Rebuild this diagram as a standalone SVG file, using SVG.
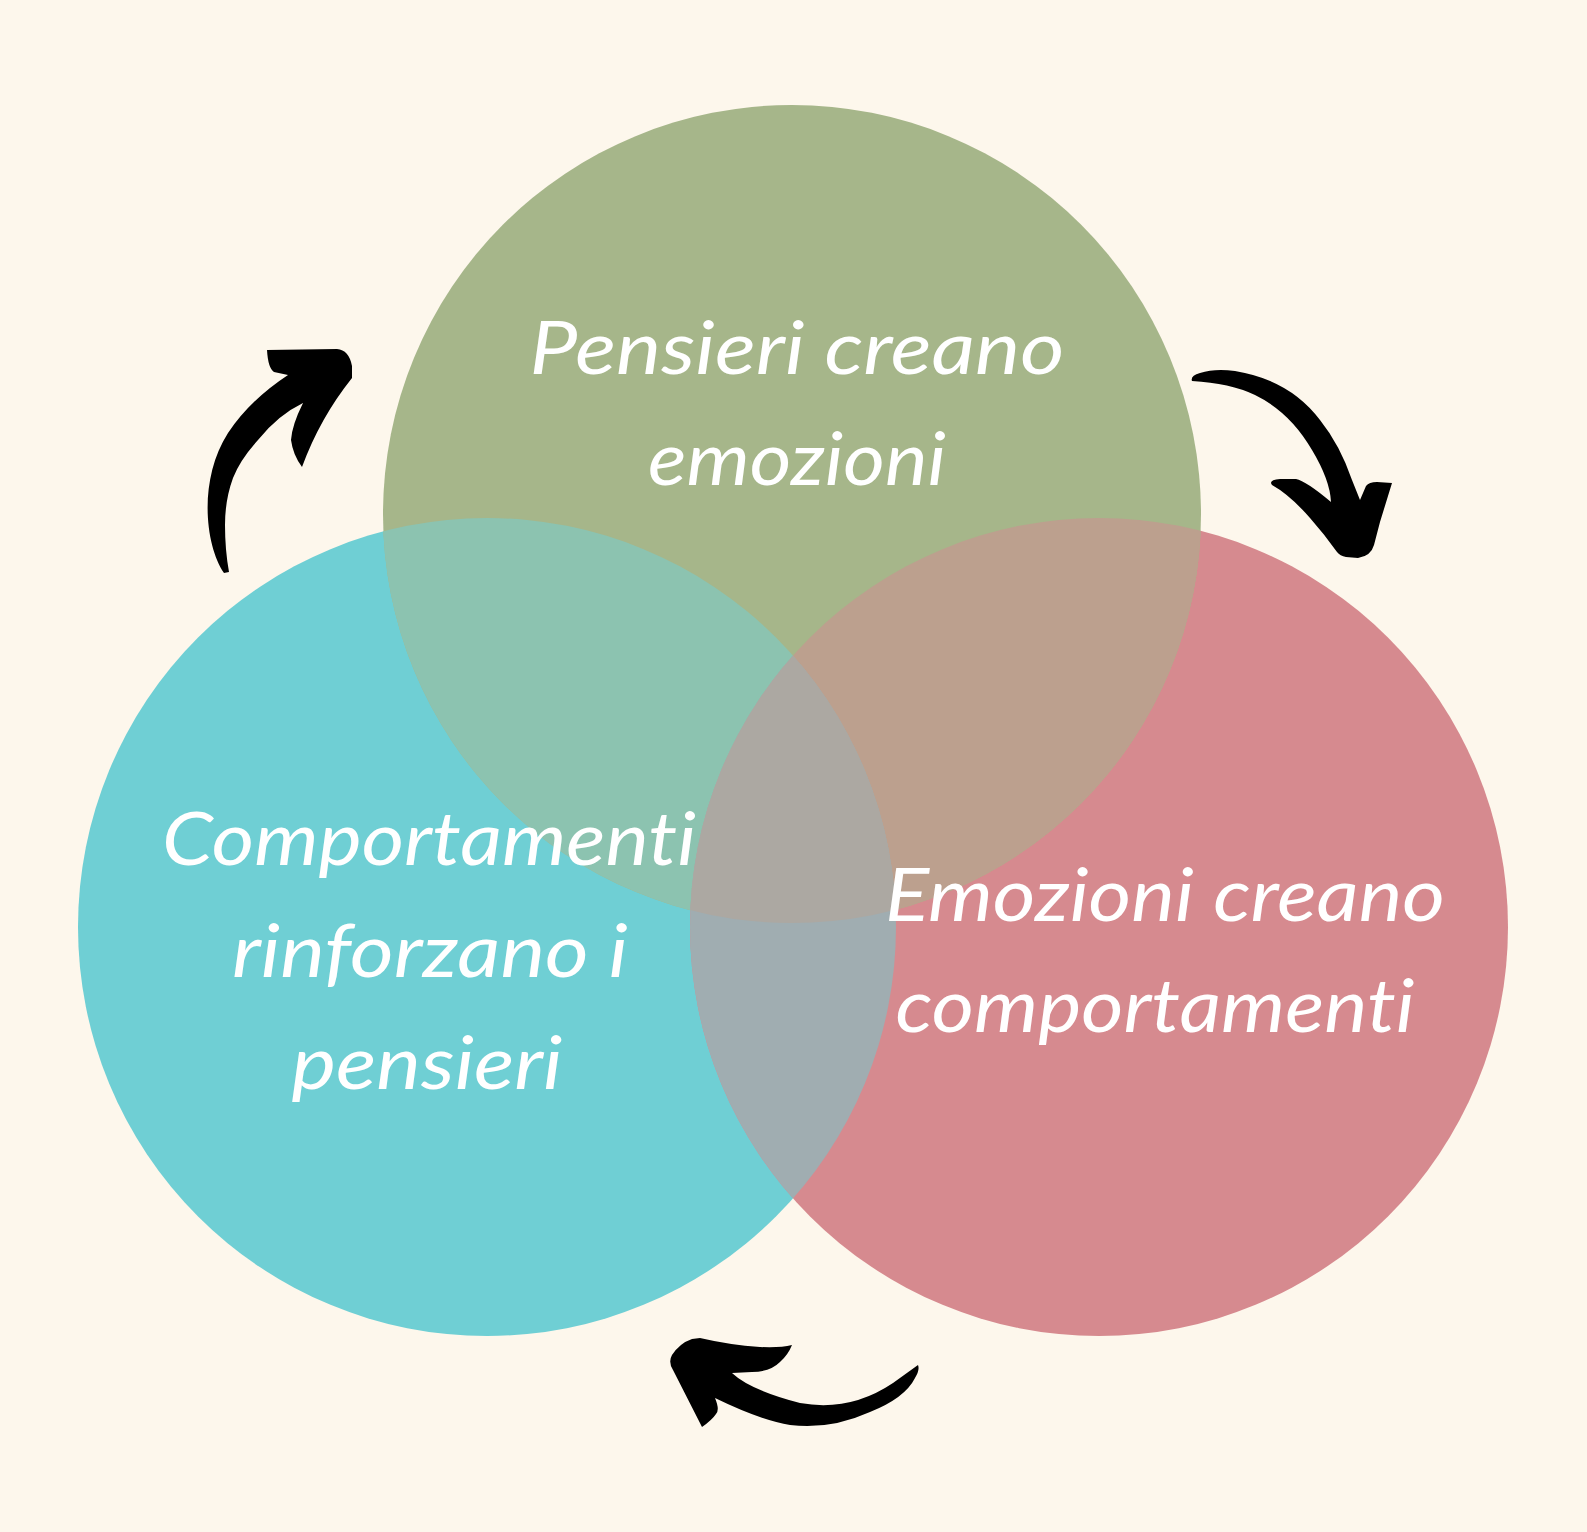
<svg xmlns="http://www.w3.org/2000/svg" width="1587" height="1532" viewBox="0 0 1587 1532">
<style>
.lbl{font-family:Lato,"Open Sans","Liberation Sans",sans-serif;font-style:italic;font-size:74px;fill:#ffffff;text-anchor:middle;font-variant-ligatures:none;font-feature-settings:"liga" 0,"clig" 0}
.arrow{fill:#000000}
</style>
<defs>
<clipPath id="cT"><circle cx="792" cy="514" r="409"/></clipPath>
<clipPath id="cL"><circle cx="487" cy="927" r="409"/></clipPath>
<clipPath id="cR"><circle cx="1099" cy="927" r="409"/></clipPath>
</defs>
<rect width="1587" height="1532" fill="#fdf7ec"/>
<g id="circle-comportamenti"><circle cx="487" cy="927" r="409" fill="#6fcfd4"/></g>
<g id="circle-emozioni"><circle cx="1099" cy="927" r="409" fill="#d68a8f"/></g>
<g id="circle-pensieri"><circle cx="792" cy="514" r="409" fill="#a6b68a"/></g>
<g id="overlaps">
<g clip-path="url(#cL)"><circle cx="792" cy="514" r="409" fill="#8cc3b0"/></g>
<g clip-path="url(#cR)"><circle cx="792" cy="514" r="409" fill="#bca08e"/></g>
<g clip-path="url(#cL)"><circle cx="1099" cy="927" r="409" fill="#a0adb1"/></g>
<g clip-path="url(#cL)"><g clip-path="url(#cR)"><circle cx="792" cy="514" r="409" fill="#aca8a2"/></g></g>
</g>
<g id="text-pensieri">
<text class="lbl" x="797" y="374" textLength="535" lengthAdjust="spacingAndGlyphs">Pensieri creano</text>
<text class="lbl" x="797" y="485" textLength="298" lengthAdjust="spacingAndGlyphs">emozioni</text>
</g>
<g id="text-comportamenti">
<text class="lbl" x="429" y="865" textLength="534" lengthAdjust="spacingAndGlyphs">Comportamenti</text>
<text class="lbl" x="430" y="977" textLength="396" lengthAdjust="spacingAndGlyphs">rinforzano i</text>
<text class="lbl" x="427" y="1089" textLength="271" lengthAdjust="spacingAndGlyphs">pensieri</text>
</g>
<g id="text-emozioni">
<text class="lbl" x="1165" y="921" textLength="560" lengthAdjust="spacingAndGlyphs">Emozioni creano</text>
<text class="lbl" x="1155" y="1032" textLength="519" lengthAdjust="spacingAndGlyphs">comportamenti</text>
</g>
<g id="connectors">
<path class="arrow" d="M 267 350 L 337 349 Q 349 350 352 366 L 352 378 Q 320 418 302 467 Q 293 455 291 440 Q 292 425 303 403 Q 278 415 258 440 Q 240 460 233 478 Q 225 500 225 525 Q 225 550 229 572 L 224 573 C 205 545 198 480 228 433 Q 250 400 288 375 L 274 372 Q 268 368 267 350 Z"/>
<path class="arrow" d="M 1192 381 Q 1190 376 1200 373 Q 1215 368 1235 371 Q 1290 380 1320 420 Q 1340 445 1352 480 L 1360 500 L 1366 486 Q 1369 482 1377 482 L 1392 483 L 1380 522 L 1374 545 Q 1371 556 1358 558 L 1346 557 Q 1340 556 1337 552 Q 1325 535 1310 518 Q 1290 495 1272 485 Q 1268 480 1280 479 L 1296 479 Q 1306 481 1331 502 Q 1330 480 1312 450 Q 1290 412 1255 395 Q 1230 383 1192 381 Z"/>
<path class="arrow" d="M 700 1338 Q 730 1345 760 1347 Q 780 1348 792 1345 Q 788 1355 780 1362 Q 770 1372 752 1372 L 732 1373 Q 750 1390 800 1403 Q 850 1412 893 1383 L 918 1365 Q 920 1370 915 1378 Q 905 1398 870 1412 Q 830 1430 790 1425 Q 760 1420 715 1398 Q 720 1410 716 1414 Q 712 1420 702 1427 L 673 1370 Q 668 1362 672 1355 Q 680 1343 692 1339 Z"/>
</g>
</svg>
